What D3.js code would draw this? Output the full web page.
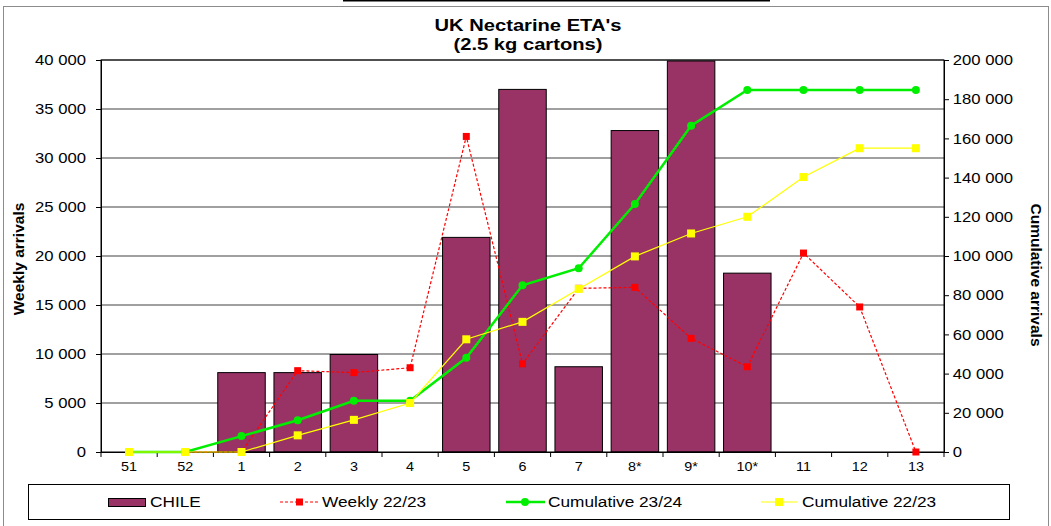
<!DOCTYPE html>
<html>
<head>
<meta charset="utf-8">
<script src="https://cdn.jsdelivr.net/npm/d3@7"></script>
<style>
  body { margin: 0; background: #fff; }
  svg text { font-family: "Liberation Sans", Arial, sans-serif; fill: #000; }
</style>
</head>
<body>
<svg id="chart" width="1051" height="526"></svg>
<script>
// weeks on the x axis
var weeks = ["51", "52", "1", "2", "3", "4", "5", "6", "7", "8*", "9*", "10*", "11", "12", "13"];

// weekly arrivals (left axis)
var chile = [0, 0, 8100, 8100, 9950, 0, 21900, 37000, 8700, 32800, 39900, 18250, null, null, null];
var weekly2223 = [0, 0, 0, 8300, 8100, 8600, 32200, 9000, 16700, 16800, 11600, 8700, 20300, 14800, 0];

// cumulative arrivals (right axis)
var cumul2324 = [0, 0, 8100, 16200, 26150, 26150, 48050, 85050, 93750, 126550, 166450, 184700, 184700, 184700, 184700];
var cumul2223 = [0, 0, 0, 8500, 16400, 25000, 57500, 66400, 83200, 99800, 111500, 120000, 140300, 155000, 155000];

var leftTicks = [0, 5000, 10000, 15000, 20000, 25000, 30000, 35000, 40000];
var rightTicks = [0, 20000, 40000, 60000, 80000, 100000, 120000, 140000, 160000, 180000, 200000];

var svg = d3.select("#chart"),
    margin = { top: 60, left: 101, right: 107, bottom: 74 },
    width = +svg.attr("width") - margin.left - margin.right,
    height = +svg.attr("height") - margin.top - margin.bottom;

var SX = 1.15; // the original picture is a bit wider than it is tall
var fmt = function(v) { return d3.format(",")(v).replace(/,/g, " "); };

// outer frame + the cut off line above it
svg.append("rect")
    .attr("x", 3.5).attr("y", 6.5)
    .attr("width", 1045).attr("height", 530)
    .attr("fill", "none").attr("stroke", "#8c8c8c").attr("stroke-width", 1);
svg.append("line")
    .attr("x1", 343).attr("x2", 770).attr("y1", 0.5).attr("y2", 0.5)
    .attr("stroke", "#000").attr("stroke-width", 2);

var x = d3.scaleBand().domain(weeks).range([0, width]),
    y = d3.scaleLinear().domain([0, 40000]).range([height, 0]),
    y2 = d3.scaleLinear().domain([0, 200000]).range([height, 0]);

var g = svg.append("g")
    .attr("transform", "translate(" + margin.left + "," + margin.top + ")");

// gridlines
g.append("g").selectAll("line")
    .data(leftTicks.slice(1))
    .join("line")
    .attr("x1", 0).attr("x2", width)
    .attr("y1", function(d) { return y(d); })
    .attr("y2", function(d) { return y(d); })
    .attr("stroke", "#808080").attr("stroke-width", 1.5);

// bars
var bw = x.bandwidth() * 0.845;
g.append("g").selectAll("rect")
    .data(weeks.map(function(w, i) { return { w: w, v: chile[i] }; }).filter(function(d) { return d.v; }))
    .join("rect")
    .attr("x", function(d) { return x(d.w) + (x.bandwidth() - bw) / 2; })
    .attr("y", function(d) { return y(d.v); })
    .attr("width", bw)
    .attr("height", function(d) { return height - y(d.v); })
    .attr("fill", "#993366")
    .attr("stroke", "#000").attr("stroke-width", 1);

// plot frame
g.append("rect")
    .attr("width", width).attr("height", height)
    .attr("fill", "none").attr("stroke", "#000").attr("stroke-width", 1);

// axes
var yAxis = d3.axisLeft(y).tickValues(leftTicks).tickFormat(fmt).tickSize(5).tickPadding(8);
var y2Axis = d3.axisRight(y2).tickValues(rightTicks).tickFormat(fmt).tickSize(5).tickPadding(2.6);
var xAxis = d3.axisBottom(x).tickSize(0).tickPadding(10);

function styleAxis(sel, size) {
    sel.select(".domain").attr("stroke", "#000");
    sel.selectAll(".tick line").attr("stroke", "#000");
    sel.selectAll("text").attr("font-size", size).attr("fill", "#000")
        .attr("transform", "scale(" + SX + ",1)")
        .style("font-family", "'Liberation Sans', Arial, sans-serif");
}

g.append("g").call(yAxis).call(styleAxis, 14.5);
g.append("g").attr("transform", "translate(" + width + ",0)").call(y2Axis).call(styleAxis, 14.5);
var gx = g.append("g").attr("transform", "translate(0," + height + ")").call(xAxis).call(styleAxis, 12.5);
// tick marks between categories
gx.selectAll("line.sep")
    .data(d3.range(weeks.length + 1))
    .join("line")
    .attr("class", "sep")
    .attr("x1", function(i) { return i * x.step(); })
    .attr("x2", function(i) { return i * x.step(); })
    .attr("y1", 0).attr("y2", 5)
    .attr("stroke", "#000");

var cx = function(d) { return x(d.w) + x.bandwidth() / 2; };

function series(values) {
    return weeks.map(function(w, i) { return { w: w, v: values[i] }; });
}

// weekly 22/23 - red dashed
var red = series(weekly2223);
g.append("path").datum(red)
    .attr("d", d3.line().x(cx).y(function(d) { return y(d.v); }))
    .attr("fill", "none").attr("stroke", "#ff0000").attr("stroke-width", 1.2)
    .attr("stroke-dasharray", "3,2");
g.append("g").selectAll("rect").data(red).join("rect")
    .attr("x", function(d) { return cx(d) - 3.5; })
    .attr("y", function(d) { return y(d.v) - 3.5; })
    .attr("width", 7).attr("height", 7)
    .attr("fill", "#ff0000");

// cumulative 23/24 - green
var green = series(cumul2324);
g.append("path").datum(green)
    .attr("d", d3.line().x(cx).y(function(d) { return y2(d.v); }))
    .attr("fill", "none").attr("stroke", "#00ee00").attr("stroke-width", 2.5);
g.append("g").selectAll("circle").data(green).join("circle")
    .attr("cx", cx)
    .attr("cy", function(d) { return y2(d.v); })
    .attr("r", 4)
    .attr("fill", "#00ee00");

// cumulative 22/23 - yellow
var yellow = series(cumul2223);
g.append("path").datum(yellow)
    .attr("d", d3.line().x(cx).y(function(d) { return y2(d.v); }))
    .attr("fill", "none").attr("stroke", "#ffff00").attr("stroke-width", 1.2);
g.append("g").selectAll("rect").data(yellow).join("rect")
    .attr("x", function(d) { return cx(d) - 4; })
    .attr("y", function(d) { return y2(d.v) - 4; })
    .attr("width", 8).attr("height", 8)
    .attr("fill", "#ffff00");

// titles
function stretched(px, py, size, txt, anchor, weight, sx) {
    return svg.append("text")
        .attr("transform", "translate(" + px + "," + py + ") scale(" + (sx || SX) + ",1)")
        .attr("text-anchor", anchor || "start")
        .attr("font-size", size)
        .attr("font-weight", weight || "normal")
        .text(txt);
}
stretched(528, 31, 16, "UK Nectarine ETA's", "middle", "bold", 1.26);
stretched(528, 49.5, 16, "(2.5 kg cartons)", "middle", "bold", 1.26);

svg.append("text")
    .attr("transform", "translate(24,259) rotate(-90)")
    .attr("text-anchor", "middle").attr("font-size", 15.5).attr("font-weight", "bold")
    .text("Weekly arrivals");
svg.append("text")
    .attr("transform", "translate(1031,275) rotate(90)")
    .attr("text-anchor", "middle").attr("font-size", 15.5).attr("font-weight", "bold")
    .text("Cumulative arrivals");

// legend
var lg = svg.append("g");
lg.append("rect")
    .attr("x", 28.5).attr("y", 484.5).attr("width", 981).attr("height", 35)
    .attr("fill", "#fff").attr("stroke", "#000").attr("stroke-width", 1);

lg.append("rect").attr("x", 108.5).attr("y", 498.5).attr("width", 37).attr("height", 8)
    .attr("fill", "#993366").attr("stroke", "#000");
stretched(150, 507, 15, "CHILE");

lg.append("line").attr("x1", 280).attr("x2", 320).attr("y1", 502).attr("y2", 502)
    .attr("stroke", "#ff0000").attr("stroke-width", 1.2).attr("stroke-dasharray", "3,2");
lg.append("rect").attr("x", 296).attr("y", 498.5).attr("width", 7).attr("height", 7).attr("fill", "#ff0000");
stretched(322, 507, 15, "Weekly 22/23");

lg.append("line").attr("x1", 506).attr("x2", 545).attr("y1", 502).attr("y2", 502)
    .attr("stroke", "#00ee00").attr("stroke-width", 2.5);
lg.append("circle").attr("cx", 525).attr("cy", 502).attr("r", 4).attr("fill", "#00ee00");
stretched(548, 507, 15, "Cumulative 23/24");

lg.append("line").attr("x1", 761).attr("x2", 797).attr("y1", 502).attr("y2", 502)
    .attr("stroke", "#ffff00").attr("stroke-width", 1.2);
lg.append("rect").attr("x", 775).attr("y", 498).attr("width", 8).attr("height", 8).attr("fill", "#ffff00");
stretched(802, 507, 15, "Cumulative 22/23");
</script>
</body>
</html>
